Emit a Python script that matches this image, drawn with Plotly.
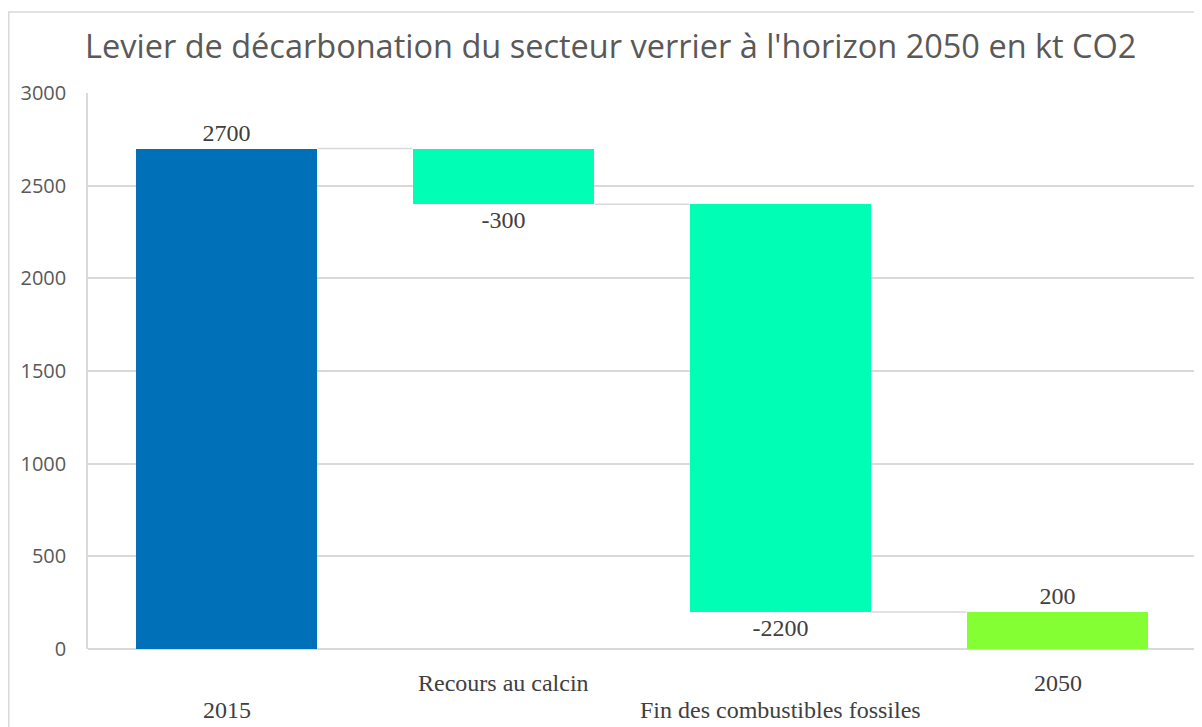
import plotly.graph_objects as go

categories = ["2015", "Recours au calcin", "Fin des combustibles fossiles", "2050"]
values = [2700, -300, -2200, 200]
measures = ["absolute", "relative", "relative", "total"]
label_texts = ["2700", "-300", "-2200", "200"]
colors = ["#0070B8", "#00FFB4", "#00FFB4", "#84FF33"]
label_rows = [1, 0, 1, 0]  # 0 = upper row, 1 = lower row (staggered)
yticks = [0, 500, 1000, 1500, 2000, 2500, 3000]
title_text = "Levier de décarbonation du secteur verrier à l'horizon 2050 en kt CO2"

# compute bases / heights from data
bases, heights, levels = [], [], []
cum = 0
for v, m in zip(values, measures):
    if m == "absolute":
        bases.append(0); heights.append(v); cum = v
    elif m == "relative":
        bases.append(cum); heights.append(v); cum += v
    else:
        bases.append(0); heights.append(cum)
    levels.append(cum)

xs = list(range(len(categories)))
bw = 0.657
serif = "Liberation Serif"

fig = go.Figure()
fig.add_trace(go.Bar(
    x=xs, y=heights, base=bases, width=bw,
    marker=dict(color=colors, line=dict(width=0)),
    text=label_texts, textposition="outside",
    textfont=dict(family=serif, size=24, color="#404040"),
    cliponaxis=False, showlegend=False, hoverinfo="skip",
))

# connectors
for i in range(len(xs) - 1):
    fig.add_trace(go.Scatter(
        x=[xs[i] + bw / 2, xs[i + 1] - bw / 2], y=[levels[i], levels[i]],
        mode="lines", line=dict(color="#d9d9d9", width=1.5),
        showlegend=False, hoverinfo="skip",
    ))

# staggered category labels
row_y = {0: -0.0612, 1: -0.1097}
for x, c, r in zip(xs, categories, label_rows):
    fig.add_annotation(x=x, xref="x", y=row_y[r], yref="paper", text=c,
                       showarrow=False, yanchor="middle",
                       font=dict(family=serif, size=24, color="#404040"))

# outer chart border
fig.add_shape(type="rect", xref="paper", yref="paper",
              x0=-0.0715, x1=1.2, y0=-0.5, y1=1.1457,
              line=dict(color="#d9d9d9", width=1.5), fillcolor="rgba(0,0,0,0)", layer="below")

fig.update_layout(
    width=1194, height=719,
    margin=dict(l=80, r=6, t=85, b=78),
    paper_bgcolor="white", plot_bgcolor="white",
    title=dict(text=title_text, x=0.0645, xref="container", xanchor="left",
               y=0.9458, yref="container", yanchor="middle",
               font=dict(family="Open Sans", size=32.5, color="#595959")),
    xaxis=dict(range=[-0.5, 3.5], showticklabels=False, showgrid=False,
               zeroline=False, showline=False, ticks=""),
    yaxis=dict(range=[0, 3000], tickvals=yticks, showgrid=True, gridcolor="#d9d9d9",
               gridwidth=1.5, zeroline=True, zerolinecolor="#d9d9d9", zerolinewidth=1.5,
               showline=True, linecolor="#d9d9d9", linewidth=1.5,
               ticks="", ticklabelstandoff=16,
               tickfont=dict(family="Open Sans", size=20, color="#595959")),
    bargap=0,
)

fig.write_html("out.html")
